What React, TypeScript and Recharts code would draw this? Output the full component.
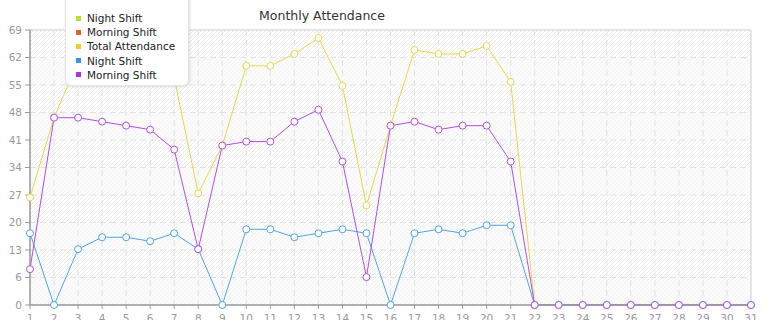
import React from 'react';
import { LineChart, Line, XAxis, YAxis, CartesianGrid, ReferenceLine } from 'recharts';

const days = ['1','2','3','4','5','6','7','8','9','10','11','12','13','14','15','16','17','18','19','20','21','22','23','24','25','26','27','28','29','30','31'];
const totalAttendance = [27,47,61,63,62,60,57,28,40,60,60,63,67,55,25,45,64,63,63,65,56,0,0,0,0,0,0,0,0,0,0];
const nightShift = [18,0,14,17,17,16,18,14,0,19,19,17,18,19,18,0,18,19,18,20,20,0,0,0,0,0,0,0,0,0,0];
const morningShift = [9,47,47,46,45,44,39,14,40,41,41,46,49,36,7,45,46,44,45,45,36,0,0,0,0,0,0,0,0,0,0];
const yTicks = [0, 6.9, 13.8, 20.7, 27.6, 34.5, 41.4, 48.3, 55.2, 62.1, 69];
const legendLabels = ['Night Shift', 'Morning Shift', 'Total Attendance', 'Night Shift', 'Morning Shift'];
const legendColors = ['#b9e02c', '#e0622e', '#e3d42e', '#3594e4', '#b230e4'];
const title = 'Monthly Attendance';

const data = days.map((d, i) => ({
  day: d,
  total: totalAttendance[i],
  night: nightShift[i],
  morning: morningShift[i],
}));

const FONT = '"DejaVu Sans", Verdana, sans-serif';
const YELLOW = '#e6d84c';
const BLUE = '#4ea4e4';
const PURPLE = '#b24ee6';

const dotStyle = (c: string) => ({ r: 3.5, fill: '#ffffff', stroke: c, strokeWidth: 1 });

export default function App() {
  return (
    <div style={{ position: 'absolute', left: 0, top: 0, width: 765, height: 320, overflow: 'hidden', fontFamily: FONT, background: '#fff' }}>
      <svg width={0} height={0} style={{ position: 'absolute' }}>
        <defs>
          <pattern id="hatchA" patternUnits="userSpaceOnUse" width={4} height={4}>
            <rect width={4} height={4} fill="#ffffff" />
            <path d="M0,4 L4,0 M-1,1 L1,-1 M3,5 L5,3" stroke="#ebebeb" strokeWidth={1} />
          </pattern>
          <pattern id="hatchB" patternUnits="userSpaceOnUse" width={4} height={4}>
            <rect width={4} height={4} fill="#fbfbfb" />
            <path d="M0,4 L4,0 M-1,1 L1,-1 M3,5 L5,3" stroke="#f4f4f4" strokeWidth={1} />
          </pattern>
        </defs>
      </svg>
      <LineChart width={765} height={320} data={data} margin={{ top: 30, right: 14, left: 0, bottom: 0 }}>
        <CartesianGrid
          stroke="#e2e2e2"
          strokeDasharray="6 4"
          horizontalFill={['url(#hatchA)', 'url(#hatchB)']}
          fillOpacity={1}
        />
        <ReferenceLine y={69} stroke="#e4e4e4" strokeWidth={2} />
        <ReferenceLine x="31" stroke="#e4e4e4" strokeWidth={2} />
        <XAxis
          dataKey="day"
          interval={0}
          height={15}
          tickSize={4}
          tickMargin={6}
          axisLine={{ stroke: '#999', strokeWidth: 1.5 }}
          tickLine={{ stroke: '#999' }}
          tick={{ fontSize: 10.5, fill: '#999', fontFamily: FONT }}
        />
        <YAxis
          width={30}
          domain={[0, 69]}
          ticks={yTicks}
          interval={0}
          tickSize={5}
          tickMargin={3}
          tickFormatter={(v: number) => String(Math.floor(v + 1e-9))}
          axisLine={{ stroke: '#999', strokeWidth: 1.5 }}
          tickLine={{ stroke: '#999' }}
          tick={{ fontSize: 10.5, fill: '#999', fontFamily: FONT }}
        />
        <Line type="linear" dataKey="total" stroke={YELLOW} strokeWidth={1} dot={dotStyle(YELLOW)} activeDot={false} isAnimationActive={false} />
        <Line type="linear" dataKey="night" stroke={BLUE} strokeWidth={1} dot={dotStyle(BLUE)} activeDot={false} isAnimationActive={false} />
        <Line type="linear" dataKey="morning" stroke={PURPLE} strokeWidth={1} dot={dotStyle(PURPLE)} activeDot={false} isAnimationActive={false} />
      </LineChart>
      <div style={{ position: 'absolute', left: 0, width: 644, top: 8, textAlign: 'center', fontSize: 12.5, color: '#333', fontFamily: FONT, lineHeight: '16px' }}>
        {title}
      </div>
      <div
        style={{
          position: 'absolute',
          left: 65,
          top: -6,
          width: 122,
          height: 90,
          background: '#fff',
          border: '1px solid #e4e4e4',
          borderRadius: 6,
          boxShadow: '1px 1px 3px rgba(0,0,0,0.12)',
        }}
      >
        {legendLabels.map((label, i) => (
          <div key={i} style={{ position: 'absolute', left: 10, top: 16 + i * 14.2, height: 14, display: 'flex', alignItems: 'center' }}>
            <span style={{ display: 'inline-block', width: 5, height: 5, background: legendColors[i], marginRight: 6 }} />
            <span style={{ fontSize: 10.5, color: '#222', fontFamily: FONT, whiteSpace: 'nowrap' }}>{label}</span>
          </div>
        ))}
      </div>
    </div>
  );
}
